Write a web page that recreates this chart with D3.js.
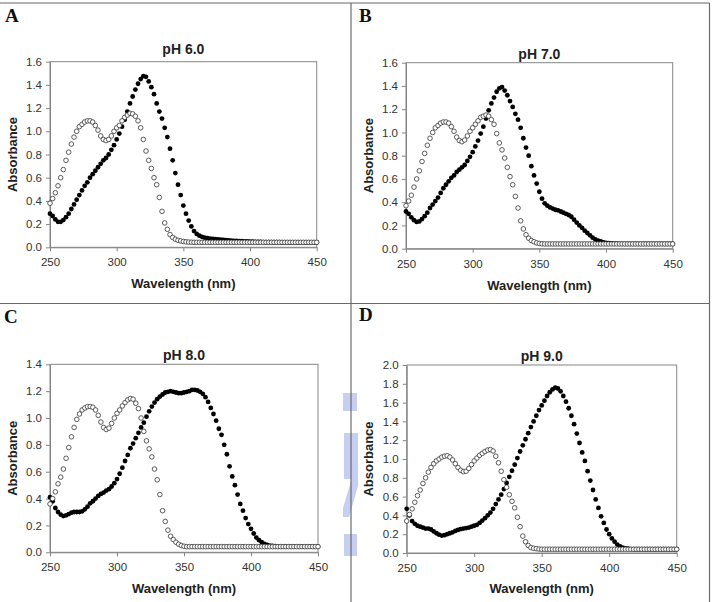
<!DOCTYPE html>
<html>
<head>
<meta charset="utf-8">
<script src="https://cdn.jsdelivr.net/npm/d3@7"></script>
<style>
  body { margin: 0; background: #fff; }
  svg { display: block; font-family: "Liberation Sans", Arial, sans-serif; }
  .axis path, .axis line { stroke: #868686; }
  .axis text { fill: #333; font-size: 11.5px; font-family: "Liberation Sans", Arial, sans-serif; }
  .ptitle { font-size: 14px; font-weight: bold; fill: #222; }
  .atitle { font-size: 13px; font-weight: bold; fill: #222; }
  .letter { font-family: "Liberation Serif", "Times New Roman", serif; font-size: 19px; font-weight: bold; fill: #111; }
</style>
</head>
<body>
<div id="chart"></div>
<script>
// wavelength grid (nm), one reading every 2 nm
const wavelengths = [
  250,252,254,256,258,260,262,264,266,268,
  270,272,274,276,278,280,282,284,286,288,
  290,292,294,296,298,300,302,304,306,308,
  310,312,314,316,318,320,322,324,326,328,
  330,332,334,336,338,340,342,344,346,348,
  350,352,354,356,358,360,362,364,366,368,
  370,372,374,376,378,380,382,384,386,388,
  390,392,394,396,398,400,402,404,406,408,
  410,412,414,416,418,420,422,424,426,428,
  430,432,434,436,438,440,442,444,446,448,
  450
];

// pH 6.0
const ph60Filled = [
  0.29,0.27,0.24,0.22,0.22,0.235,0.26,0.29,0.33,0.37,
  0.41,0.45,0.49,0.53,0.56,0.60,0.63,0.66,0.69,0.72,
  0.75,0.77,0.80,0.84,0.88,0.93,0.98,1.04,1.10,1.17,
  1.24,1.30,1.36,1.41,1.45,1.475,1.47,1.43,1.38,1.32,
  1.24,1.17,1.11,1.03,0.95,0.85,0.75,0.64,0.54,0.45,
  0.36,0.29,0.23,0.18,0.14,0.115,0.10,0.09,0.083,0.078,
  0.075,0.072,0.07,0.068,0.066,0.064,0.062,0.06,0.058,0.056,
  0.055,0.053,0.052,0.051,0.05,0.049,0.048,0.047,0.046,0.046,
  0.045,0.045,0.045,0.044,0.044,0.044,0.044,0.043,0.043,0.043,
  0.043,0.043,0.043,0.043,0.043,0.043,0.043,0.043,0.043,0.043,
  0.043
];
const ph60Open = [
  0.38,0.42,0.47,0.53,0.60,0.67,0.75,0.82,0.89,0.95,
  1.00,1.04,1.06,1.08,1.09,1.09,1.08,1.05,1.01,0.96,
  0.93,0.92,0.93,0.96,1.00,1.03,1.05,1.09,1.12,1.14,
  1.155,1.15,1.13,1.09,1.03,0.93,0.83,0.75,0.68,0.60,
  0.54,0.43,0.31,0.21,0.155,0.11,0.085,0.07,0.06,0.055,
  0.05,0.047,0.045,0.044,0.043,0.043,0.043,0.043,0.043,0.043,
  0.043,0.043,0.043,0.043,0.043,0.043,0.043,0.043,0.043,0.043,
  0.043,0.043,0.043,0.043,0.043,0.043,0.043,0.043,0.043,0.043,
  0.043,0.043,0.043,0.043,0.043,0.043,0.043,0.043,0.043,0.043,
  0.043,0.043,0.043,0.043,0.043,0.043,0.043,0.043,0.043,0.043,
  0.043
];

// pH 7.0
const ph70Filled = [
  0.32,0.30,0.27,0.245,0.23,0.235,0.255,0.28,0.31,0.35,
  0.38,0.41,0.44,0.48,0.52,0.55,0.58,0.61,0.63,0.66,
  0.68,0.70,0.72,0.755,0.79,0.83,0.88,0.93,0.99,1.05,
  1.12,1.19,1.25,1.30,1.35,1.38,1.39,1.36,1.32,1.27,
  1.22,1.16,1.11,1.04,0.95,0.87,0.80,0.71,0.63,0.56,
  0.49,0.43,0.39,0.37,0.355,0.345,0.335,0.33,0.32,0.31,
  0.30,0.29,0.275,0.25,0.225,0.20,0.18,0.155,0.135,0.115,
  0.095,0.08,0.07,0.062,0.055,0.05,0.047,0.045,0.044,0.043,
  0.042,0.042,0.041,0.041,0.041,0.041,0.041,0.041,0.041,0.041,
  0.041,0.041,0.041,0.041,0.041,0.041,0.041,0.041,0.041,0.041,
  0.041
];
const ph70Open = [
  0.37,0.41,0.46,0.53,0.60,0.67,0.75,0.82,0.89,0.95,
  1.00,1.04,1.06,1.08,1.09,1.09,1.08,1.05,1.01,0.96,
  0.93,0.92,0.935,0.97,1.01,1.04,1.07,1.10,1.13,1.14,
  1.15,1.14,1.11,1.07,0.99,0.91,0.85,0.78,0.70,0.62,
  0.55,0.45,0.35,0.24,0.17,0.12,0.09,0.07,0.06,0.05,
  0.045,0.042,0.041,0.041,0.041,0.041,0.041,0.041,0.041,0.041,
  0.041,0.041,0.041,0.041,0.041,0.041,0.041,0.041,0.041,0.041,
  0.041,0.041,0.041,0.041,0.041,0.041,0.041,0.041,0.041,0.041,
  0.041,0.041,0.041,0.041,0.041,0.041,0.041,0.041,0.041,0.041,
  0.041,0.041,0.041,0.041,0.041,0.041,0.041,0.041,0.041,0.041,
  0.041
];

// pH 8.0
const ph80Filled = [
  0.41,0.38,0.33,0.30,0.28,0.27,0.275,0.285,0.295,0.30,
  0.30,0.30,0.305,0.32,0.34,0.365,0.38,0.40,0.42,0.435,
  0.445,0.46,0.47,0.49,0.515,0.545,0.585,0.63,0.68,0.725,
  0.775,0.81,0.85,0.89,0.93,0.965,1.01,1.05,1.085,1.115,
  1.14,1.16,1.175,1.19,1.195,1.20,1.195,1.19,1.185,1.185,
  1.19,1.195,1.20,1.21,1.21,1.205,1.195,1.18,1.155,1.12,
  1.075,1.03,0.98,0.92,0.875,0.80,0.73,0.64,0.565,0.50,
  0.43,0.36,0.31,0.255,0.21,0.175,0.14,0.11,0.09,0.075,
  0.062,0.055,0.05,0.047,0.045,0.043,0.042,0.042,0.042,0.042,
  0.042,0.042,0.042,0.042,0.042,0.042,0.042,0.042,0.042,0.042,
  0.042
];
const ph80Open = [
  0.36,0.40,0.45,0.51,0.56,0.62,0.70,0.78,0.86,0.93,
  0.99,1.03,1.06,1.075,1.085,1.085,1.08,1.06,1.02,0.97,
  0.93,0.915,0.925,0.96,1.00,1.035,1.06,1.09,1.115,1.135,
  1.145,1.14,1.11,1.07,1.00,0.90,0.83,0.77,0.71,0.62,
  0.54,0.43,0.31,0.23,0.165,0.12,0.095,0.075,0.06,0.05,
  0.045,0.042,0.042,0.042,0.042,0.042,0.042,0.042,0.042,0.042,
  0.042,0.042,0.042,0.042,0.042,0.042,0.042,0.042,0.042,0.042,
  0.042,0.042,0.042,0.042,0.042,0.042,0.042,0.042,0.042,0.042,
  0.042,0.042,0.042,0.042,0.042,0.042,0.042,0.042,0.042,0.042,
  0.042,0.042,0.042,0.042,0.042,0.042,0.042,0.042,0.042,0.042,
  0.042
];

// pH 9.0
const ph90Filled = [
  0.47,0.40,0.34,0.31,0.29,0.28,0.27,0.26,0.26,0.25,
  0.23,0.21,0.195,0.185,0.19,0.20,0.21,0.22,0.235,0.245,
  0.255,0.26,0.265,0.27,0.28,0.29,0.30,0.32,0.345,0.37,
  0.40,0.43,0.47,0.52,0.57,0.62,0.68,0.745,0.81,0.875,
  0.94,1.01,1.08,1.145,1.21,1.275,1.34,1.40,1.46,1.52,
  1.57,1.62,1.67,1.71,1.74,1.76,1.75,1.72,1.67,1.61,
  1.54,1.46,1.37,1.27,1.17,1.07,0.98,0.87,0.77,0.67,
  0.57,0.48,0.39,0.32,0.25,0.20,0.155,0.12,0.09,0.07,
  0.058,0.05,0.045,0.042,0.04,0.04,0.04,0.04,0.04,0.04,
  0.04,0.04,0.04,0.04,0.04,0.04,0.04,0.04,0.04,0.04,
  0.04
];
const ph90Open = [
  0.34,0.41,0.47,0.54,0.61,0.67,0.74,0.80,0.86,0.91,
  0.95,0.98,1.00,1.02,1.03,1.035,1.02,0.99,0.95,0.91,
  0.88,0.865,0.87,0.90,0.94,0.98,1.01,1.04,1.06,1.08,
  1.095,1.10,1.085,1.03,0.96,0.87,0.78,0.70,0.62,0.55,
  0.48,0.38,0.28,0.18,0.12,0.08,0.058,0.05,0.046,0.042,
  0.04,0.04,0.04,0.04,0.04,0.04,0.04,0.04,0.04,0.04,
  0.04,0.04,0.04,0.04,0.04,0.04,0.04,0.04,0.04,0.04,
  0.04,0.04,0.04,0.04,0.04,0.04,0.04,0.04,0.04,0.04,
  0.04,0.04,0.04,0.04,0.04,0.04,0.04,0.04,0.04,0.04,
  0.04,0.04,0.04,0.04,0.04,0.04,0.04,0.04,0.04,0.04,
  0.04
];

const xTicks = [250, 300, 350, 400, 450];
const yTicks16 = [0, 0.2, 0.4, 0.6, 0.8, 1.0, 1.2, 1.4, 1.6];
const yTicks14 = [0, 0.2, 0.4, 0.6, 0.8, 1.0, 1.2, 1.4];
const yTicks20 = [0, 0.2, 0.4, 0.6, 0.8, 1.0, 1.2, 1.4, 1.6, 1.8, 2.0];
const panelLetters = ["A", "B", "C", "D"];
const panelTitles = ["pH 6.0", "pH 7.0", "pH 8.0", "pH 9.0"];
const xTitle = "Wavelength (nm)";
const yTitle = "Absorbance";

const series = [
  { filled: ph60Filled, open: ph60Open, yTicks: yTicks16 },
  { filled: ph70Filled, open: ph70Open, yTicks: yTicks16 },
  { filled: ph80Filled, open: ph80Open, yTicks: yTicks14 },
  { filled: ph90Filled, open: ph90Open, yTicks: yTicks20 }
];

// plot boxes and text positions for each panel
const layout = [
  { x0: 50,    x1: 316.7, y0: 61.7,  y1: 247.3, titleY: 54,    xTitleY: 288,   yTitleX: 16.5,  lx: 5,   ly: 22 },
  { x0: 406,   x1: 672.7, y0: 62.7,  y1: 248.7, titleY: 58.5,  xTitleY: 289.5, yTitleX: 372.5, lx: 359, ly: 22 },
  { x0: 50,    x1: 318,   y0: 364.3, y1: 552.3, titleY: 360,   xTitleY: 592.7, yTitleX: 16.5,  lx: 4,   ly: 323 },
  { x0: 406.7, x1: 676.7, y0: 365,   y1: 553,   titleY: 360.5, xTitleY: 593.3, yTitleX: 372.5, lx: 359, ly: 321 }
];

const W = 712, H = 602;
const svg = d3.select("#chart").append("svg")
  .attr("width", W)
  .attr("height", H);

// faint watermark fragment behind the middle divider
const wm = svg.append("g").attr("fill", "#aebbec").attr("opacity", 0.7);
wm.append("rect").attr("x", 343).attr("y", 393).attr("width", 14).attr("height", 18);
wm.append("rect").attr("x", 344).attr("y", 433).attr("width", 14).attr("height", 46);
wm.append("polygon").attr("points", "343,517 349,517 358,486 358,478 352,478 343,508");
wm.append("rect").attr("x", 344).attr("y", 534).attr("width", 13).attr("height", 22);

// frame lines
const frame = svg.append("g").attr("stroke", "#6b6b6b").attr("stroke-width", 1.2);
frame.append("line").attr("x1", 0).attr("x2", 709.5).attr("y1", 3).attr("y2", 3).attr("stroke", "#9a9a9a").attr("stroke-width", 1.5);
frame.append("line").attr("x1", 709.5).attr("x2", 709.5).attr("y1", 3).attr("y2", H);
frame.append("line").attr("x1", 351).attr("x2", 351).attr("y1", 3).attr("y2", H);
frame.append("line").attr("x1", 0).attr("x2", 709.5).attr("y1", 303.5).attr("y2", 303.5);

series.forEach(function (s, i) {
  const L = layout[i];
  const g = svg.append("g");

  const x = d3.scaleLinear().domain([250, 450]).range([L.x0, L.x1]);
  const y = d3.scaleLinear().domain([0, d3.max(s.yTicks)]).range([L.y1, L.y0]);

  g.append("rect")
    .attr("x", L.x0).attr("y", L.y0)
    .attr("width", L.x1 - L.x0).attr("height", L.y1 - L.y0)
    .attr("fill", "none").attr("stroke", "#868686");

  g.append("g")
    .attr("class", "axis")
    .attr("transform", "translate(0," + L.y1 + ")")
    .call(d3.axisBottom(x).tickValues(xTicks).tickSize(4).tickSizeOuter(0).tickPadding(7));

  g.append("g")
    .attr("class", "axis")
    .attr("transform", "translate(" + L.x0 + ",0)")
    .call(d3.axisLeft(y).tickValues(s.yTicks).tickFormat(d3.format(".1f")).tickSize(4).tickSizeOuter(0).tickPadding(4));

  const pts = wavelengths.map(function (w, k) {
    return { w: w, f: s.filled[k], o: s.open[k] };
  });

  g.append("g").selectAll("circle")
    .data(pts)
    .enter().append("circle")
    .attr("cx", function (d) { return x(d.w); })
    .attr("cy", function (d) { return y(d.f); })
    .attr("r", 2.4)
    .attr("fill", "#000");

  g.append("g").selectAll("circle")
    .data(pts)
    .enter().append("circle")
    .attr("cx", function (d) { return x(d.w); })
    .attr("cy", function (d) { return y(d.o); })
    .attr("r", 2.3)
    .attr("fill", "#fff")
    .attr("stroke", "#333")
    .attr("stroke-width", 0.8);

  g.append("text")
    .attr("class", "ptitle")
    .attr("x", (L.x0 + L.x1) / 2)
    .attr("y", L.titleY)
    .attr("text-anchor", "middle")
    .text(panelTitles[i]);

  g.append("text")
    .attr("class", "atitle")
    .attr("x", (L.x0 + L.x1) / 2)
    .attr("y", L.xTitleY)
    .attr("text-anchor", "middle")
    .text(xTitle);

  g.append("text")
    .attr("class", "atitle")
    .attr("transform", "translate(" + L.yTitleX + "," + (L.y0 + L.y1) / 2 + ") rotate(-90)")
    .attr("text-anchor", "middle")
    .text(yTitle);

  g.append("text")
    .attr("class", "letter")
    .attr("x", L.lx)
    .attr("y", L.ly)
    .text(panelLetters[i]);
});
</script>
</body>
</html>
